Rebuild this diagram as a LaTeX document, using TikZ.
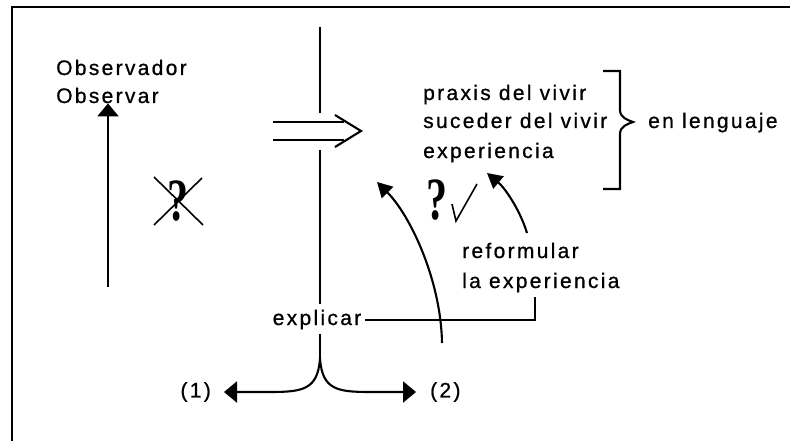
\documentclass[tikz,border=0pt]{standalone}
\usepackage{fontspec}
\setmainfont{Liberation Sans}[LetterSpace=11, FakeBold=0.8]
\newfontfamily\qfont{Liberation Serif}
\usetikzlibrary{arrows.meta}
\usetikzlibrary{positioning}
\tikzstyle{lbl} = [inner sep=0pt, font=\fontsize{21}{29}\selectfont]
\tikzstyle{qmark} = [inner sep=0pt, xscale=0.7, font=\qfont\bfseries\fontsize{60}{60}\selectfont]
\tikzstyle{pen} = [line width=2.1pt]
\tikzstyle{arrow} = [pen, -{Triangle[length=13pt,width=21pt]}]
\tikzstyle{bentarrow} = [pen, -{Triangle[length=15pt,width=16pt]}]

\begin{document}
\begin{tikzpicture}[x=1pt,y=-1pt]
    \useasboundingbox (0,0) rectangle (790,441);
    % frame
    \draw[line width=2.2pt] (12,441) -- (12,7) -- (790,7);

    % observer
    \node (obs1) [lbl, anchor=base west] at (56,75) {Observador};
    \node (obs2) [lbl, anchor=base west] at (56,103) {Observar};
    \coordinate (obsfoot) at (108,287);
    \draw[arrow] (obsfoot) -- (obsfoot |- obs2.south);

    % crossed question
    \node (quest1) [qmark] at (178,201) {?};
    \draw[pen, line width=1.6pt] (154,177) -- (203,225);
    \draw[pen, line width=1.6pt] (202,178) -- (154,225);

    % central line
    \coordinate (vtop) at (320,27);
    \coordinate (vgap1) at (320,113);
    \coordinate (vgap2) at (320,150);
    \node (expl) [lbl, anchor=base] at (317,325) {explicar};
    \draw[pen] (vtop) -- (vgap1);
    \draw[pen, shorten >=6pt] (vgap2) -- (vgap2 |- expl.north);

    % double arrow
    \coordinate (imp) at (361,131);
    \draw[pen] (273,122) -- (344,122) (273,140) -- (344,140);
    \draw[pen, line join=miter] (335,115) -- (imp) -- (335,147);

    % fork
    \coordinate (fork) at (320,358);
    \node (one) [lbl, anchor=east] at (211,392) {(1)};
    \node (two) [lbl, anchor=west] at (430,392) {(2)};
    \draw[pen, shorten <=4pt] (expl.south -| fork) -- (fork);
    \draw[arrow, shorten >=13pt] (fork) .. controls (318,392) and (300,392) .. (265,392) -- (one.east);
    \draw[arrow, shorten >=14pt] (fork) .. controls (322,392) and (340,392) .. (375,392) -- (two.west);

    % right block
    \node (praxis) [lbl, anchor=base west] at (423,100) {praxis del vivir};
    \node (suceder) [lbl, anchor=base west] at (423,128) {suceder del vivir};
    \node (exper) [lbl, anchor=base west] at (423,158) {experiencia};
    \node (lenguaje) [lbl, anchor=base west] at (648,128) {en lenguaje};
    \draw[pen] (603,71) -- (620,71) -- (620,110)
        .. controls (620,118) and (628,120) .. (633,122)
        .. controls (628,124) and (620,126) .. (620,134) -- (620,189) -- (603,189);

    % question and check
    \node (quest2) [qmark] at (437,200) {?};
    \draw[pen, line width=1.6pt] (452,204) -- (456,221) -- (477,184);

    % reformulate
    \node (reform) [lbl, anchor=base west] at (462,258) {reformular};
    \node (laexp) [lbl, anchor=base west] at (462,288) {la experiencia};
    \coordinate (hook) at (535,297);
    \draw[pen, shorten <=4pt] (expl.east) -| (hook);

    % bent arrows
    \coordinate (bigfoot) at (442,343);
    \coordinate (bigtip) at (377,182);
    \draw[bentarrow] (bigfoot) .. controls (441,280) and (410,215) .. (bigtip);
    \coordinate (smallfoot) at (527,233);
    \coordinate (smalltip) at (487,173);
    \draw[bentarrow] (smallfoot) .. controls (520,210) and (505,188) .. (smalltip);
\end{tikzpicture}
\end{document}
